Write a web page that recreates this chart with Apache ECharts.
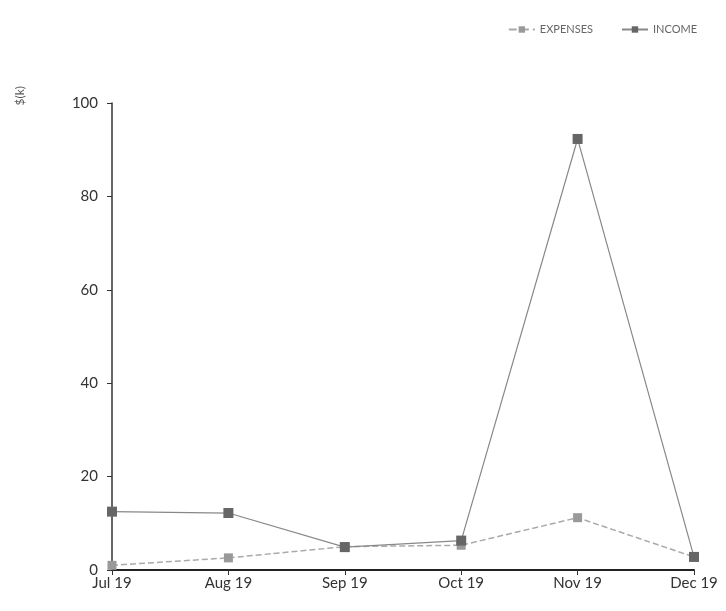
<!DOCTYPE html>
<html><head><meta charset="utf-8">
<script src="https://cdn.jsdelivr.net/npm/echarts@6/dist/echarts.min.js"></script>
<style>html,body{margin:0;padding:0;background:#fff}#c{width:726px;height:611px}</style>
</head><body><div id="c"></div>
<script>
const categories = ['Jul 19','Aug 19','Sep 19','Oct 19','Nov 19','Dec 19'];
const expenses = [1, 2.6, 5, 5.3, 11.2, 2.8];
const income = [12.5, 12.2, 4.9, 6.3, 92.3, 2.8];
const yTicks = {min:0, max:100, interval:20};

const chart = echarts.init(document.getElementById('c'));
chart.setOption({
  animation:false,
  textStyle:{fontFamily:'Lato, "Open Sans", sans-serif'},
  legend:{
    top:19, right:24, itemGap:28, itemWidth:26, itemHeight:8,
    textStyle:{color:'#666', fontSize:11},
    data:['EXPENSES','INCOME']
  },
  grid:{left:112, right:32, top:103, bottom:41},
  graphic:[{type:'text', left:14, top:86, rotation:Math.PI/2,
    style:{text:'$(k)', fill:'#555', font:'12px Lato, sans-serif'}}],
  xAxis:{
    type:'category', data:categories, boundaryGap:false,
    axisLine:{lineStyle:{color:'#222', width:2}},
    axisTick:{alignWithLabel:true, length:5, lineStyle:{color:'#333'}},
    axisLabel:{color:'#333', fontSize:15, margin:6}
  },
  yAxis:{
    type:'value', min:yTicks.min, max:yTicks.max, interval:yTicks.interval,
    axisLine:{show:true, lineStyle:{color:'#333', width:1.5}},
    axisTick:{show:true, length:5, lineStyle:{color:'#333'}},
    axisLabel:{color:'#333', fontSize:15, margin:14},
    splitLine:{show:false}
  },
  series:[
    {name:'EXPENSES', type:'line', data:expenses, symbol:'rect', symbolSize:9,
     lineStyle:{color:'#aaa', type:'dashed', width:1.5},
     itemStyle:{color:'#999'}},
    {name:'INCOME', type:'line', data:income, symbol:'rect', symbolSize:10,
     lineStyle:{color:'#888', width:1.2},
     itemStyle:{color:'#666'}}
  ]
});
</script></body></html>
